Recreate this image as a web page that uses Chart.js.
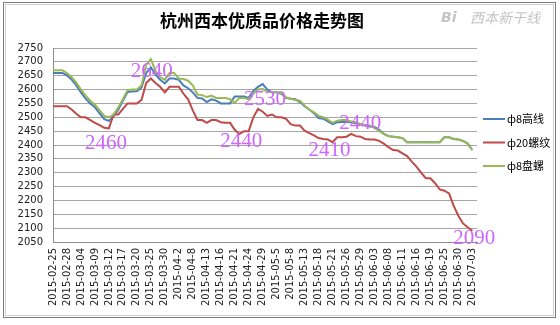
<!DOCTYPE html>
<html>
<head>
<meta charset="utf-8">
<script src="https://cdn.jsdelivr.net/npm/chart.js@4.4.1/dist/chart.umd.min.js"></script>
<style>
  html, body { margin: 0; padding: 0; background: #fff; }
  #wrap { width: 560px; height: 325px; }
</style>
</head>
<body>
<div id="wrap"><canvas id="priceChart" width="560" height="325"></canvas></div>
<script>
// trading days, 2015
const dates = [
    '2015-02-25', '2015-02-26', '2015-02-27', '2015-02-28', '2015-03-02', '2015-03-03', '2015-03-04',
    '2015-03-05', '2015-03-06', '2015-03-09', '2015-03-10', '2015-03-11', '2015-03-12', '2015-03-13',
    '2015-03-16', '2015-03-17', '2015-03-18', '2015-03-19', '2015-03-20', '2015-03-23', '2015-03-24',
    '2015-03-25', '2015-03-26', '2015-03-27', '2015-03-30', '2015-03-31', '2015-04-1', '2015-04-2',
    '2015-04-3', '2015-04-7', '2015-04-8', '2015-04-9', '2015-04-10', '2015-04-13', '2015-04-14',
    '2015-04-15', '2015-04-16', '2015-04-17', '2015-04-20', '2015-04-21', '2015-04-22', '2015-04-23',
    '2015-04-24', '2015-04-27', '2015-04-28', '2015-04-29', '2015-04-30', '2015-05-4', '2015-05-5',
    '2015-05-6', '2015-05-7', '2015-05-8', '2015-05-11', '2015-05-12', '2015-05-13', '2015-05-14',
    '2015-05-15', '2015-05-18', '2015-05-19', '2015-05-20', '2015-05-21', '2015-05-22', '2015-05-25',
    '2015-05-26', '2015-05-27', '2015-05-28', '2015-05-29', '2015-06-01', '2015-06-02', '2015-06-03',
    '2015-06-04', '2015-06-05', '2015-06-08', '2015-06-09', '2015-06-10', '2015-06-11', '2015-06-12',
    '2015-06-15', '2015-06-16', '2015-06-17', '2015-06-18', '2015-06-19', '2015-06-23', '2015-06-24',
    '2015-06-25', '2015-06-26', '2015-06-29', '2015-06-30', '2015-07-01', '2015-07-02', '2015-07-03'
];

// ф8高线
const wireRod = [
    2660, 2660, 2660, 2651, 2636, 2615, 2590, 2567, 2550, 2536,
    2514, 2493, 2487, 2503, 2527, 2560, 2591, 2593, 2594, 2608,
    2660, 2680, 2655, 2635, 2622, 2640, 2640, 2635, 2615, 2605,
    2590, 2570, 2568, 2555, 2565, 2560, 2550, 2550, 2550, 2575,
    2575, 2575, 2570, 2595, 2610, 2620, 2600, 2590, 2590, 2585,
    2570, 2567, 2565, 2555, 2540, 2528, 2515, 2497, 2495, 2485,
    2475, 2482, 2483, 2483, 2482, 2478, 2475, 2470, 2467, 2465,
    2455, 2440, 2432, 2430, 2428, 2425, 2410, 2410, 2410, 2410,
    2410, 2410, 2410, 2410, 2428, 2428, 2422, 2420, 2415, 2405,
    2382
];

// ф20螺纹
const rebar = [
    2540, 2540, 2540, 2540, 2528, 2513, 2500, 2500, 2490, 2480,
    2472, 2462, 2460, 2510, 2510, 2530, 2550, 2550, 2550, 2563,
    2624, 2640, 2624, 2610, 2590, 2610, 2610, 2610, 2585, 2565,
    2525, 2490, 2490, 2480, 2490, 2490, 2482, 2480, 2480, 2455,
    2440, 2450, 2450, 2500, 2530, 2520, 2505, 2510, 2500, 2500,
    2495, 2475, 2470, 2470, 2452, 2443, 2435, 2425, 2422, 2420,
    2410, 2428, 2428, 2430, 2440, 2432, 2430, 2422, 2420, 2420,
    2415, 2405, 2392, 2382, 2380, 2370, 2360, 2340, 2322, 2300,
    2280, 2280, 2262, 2240, 2235, 2225, 2180, 2145, 2117, 2103,
    2090
];

// ф8盘螺
const coil = [
    2670, 2670, 2670, 2660, 2645, 2625, 2600, 2578, 2560, 2545,
    2525, 2505, 2500, 2510, 2535, 2565, 2598, 2600, 2600, 2615,
    2690, 2710, 2668, 2645, 2635, 2660, 2660, 2640, 2638, 2632,
    2615, 2582, 2580, 2573, 2578, 2570, 2570, 2570, 2565, 2552,
    2570, 2570, 2565, 2585, 2600, 2602, 2592, 2590, 2590, 2588,
    2572, 2567, 2562, 2560, 2542, 2528, 2518, 2505, 2500, 2492,
    2480, 2488, 2490, 2490, 2485, 2482, 2475, 2473, 2470, 2462,
    2450, 2440, 2432, 2430, 2428, 2425, 2410, 2410, 2410, 2410,
    2410, 2410, 2410, 2410, 2428, 2428, 2422, 2420, 2415, 2405,
    2382
];

// rebar points that get a value note
const noteIdx = [12, 21, 40, 44, 60, 64, 90];

const seriesNames = ['ф8高线', 'ф20螺纹', 'ф8盘螺'];
const seriesColors = ['#4a7ebb', '#be4b48', '#98b954'];

const yMin = 2050;
const yMax = 2750;
const yStep = 50;

Chart.defaults.font.family = "'DejaVu Sans', sans-serif";
Chart.defaults.animation = false;

// offsets of each note text from its point
const noteOffsets = [[-3, 15], [1, -7], [2, 8], [7, -9], [-3, 8], [9, -10], [2, 8]];

const decor = {
    id: 'decor',
    beforeDraw(chart) {
        const c = chart.ctx;
        c.save();
        c.fillStyle = '#fff';
        c.fillRect(0, 0, chart.width, chart.height);
        c.restore();
    },
    afterDatasetsDraw(chart) {
        const c = chart.ctx;
        const xs = chart.scales.x;
        const ys = chart.scales.y;
        c.save();
        c.font = "21px 'Liberation Serif', serif";
        c.fillStyle = '#cc66ff';
        c.textAlign = 'center';
        c.textBaseline = 'middle';
        noteIdx.forEach((idx, k) => {
            const v = rebar[idx];
            const off = noteOffsets[k];
            c.fillText(String(v), xs.getPixelForValue(idx) + off[0], ys.getPixelForValue(v) + off[1]);
        });
        c.restore();
    },
    afterDraw(chart) {
        const c = chart.ctx;
        c.save();

        // frame
        c.lineWidth = 1;
        c.strokeStyle = '#7a7a7a';
        c.strokeRect(3.5, 2.5, 552, 315);
        c.strokeStyle = '#cfcfcf';
        c.strokeRect(5.5, 4.5, 548, 311);

        // title
        c.fillStyle = '#000';
        c.textAlign = 'center';
        c.textBaseline = 'middle';
        c.font = "bold 17px 'Noto Sans CJK SC', sans-serif";
        c.fillText('杭州西本优质品价格走势图', 262, 21);

        // site mark
        c.fillStyle = '#c4c4c4';
        c.textAlign = 'left';
        c.font = "italic bold 14px 'DejaVu Sans', sans-serif";
        c.fillText('Bi', 441, 18);
        c.font = "italic 14px 'Noto Sans CJK SC', sans-serif";
        c.fillText('西本新干线', 470, 18);

        // legend
        c.font = "11px 'Noto Sans CJK SC', sans-serif";
        chart.data.datasets.forEach((ds, i) => {
            const y = 119 + i * 23.5;
            c.strokeStyle = ds.borderColor;
            c.lineWidth = 2;
            c.beginPath();
            c.moveTo(483, y);
            c.lineTo(505, y);
            c.stroke();
            c.fillStyle = '#000';
            c.fillText(ds.label, 507, y);
        });
        c.restore();
    }
};

const series = [wireRod, rebar, coil];

new Chart(document.getElementById('priceChart'), {
    type: 'line',
    data: {
        // one spare slot keeps the last day off the right edge
        labels: dates.concat(['']),
        datasets: series.map((data, i) => ({
            label: seriesNames[i],
            data: data,
            borderColor: seriesColors[i],
            backgroundColor: seriesColors[i],
            borderWidth: 2,
            tension: 0,
            pointRadius: 0,
            fill: false,
            order: 3 - i
        }))
    },
    options: {
        responsive: false,
        layout: { padding: { top: 48, right: 83, left: 0, bottom: 0 } },
        plugins: {
            legend: { display: false },
            title: { display: false },
            tooltip: { enabled: false }
        },
        scales: {
            x: {
                offset: false,
                grid: { display: false, drawTicks: false },
                border: { display: true, color: '#8c8c8c', width: 1 },
                ticks: {
                    autoSkip: false,
                    minRotation: 90,
                    maxRotation: 90,
                    padding: 6,
                    color: '#222',
                    font: { size: 10 },
                    callback: function (value, index) {
                        return index % 3 === 0 ? this.getLabelForValue(value) : '';
                    }
                },
                afterFit: (s) => { s.height = 83; }
            },
            y: {
                min: yMin,
                max: yMax,
                grid: { color: '#a6a6a6', lineWidth: 1, drawTicks: false },
                border: { display: true, color: '#8c8c8c', width: 1 },
                ticks: {
                    stepSize: yStep,
                    autoSkip: false,
                    padding: 10,
                    color: '#222',
                    font: { size: 10 },
                    callback: (value) => String(value)
                },
                afterFit: (s) => { s.width = 53; }
            }
        }
    },
    plugins: [decor]
});
</script>
</body>
</html>
